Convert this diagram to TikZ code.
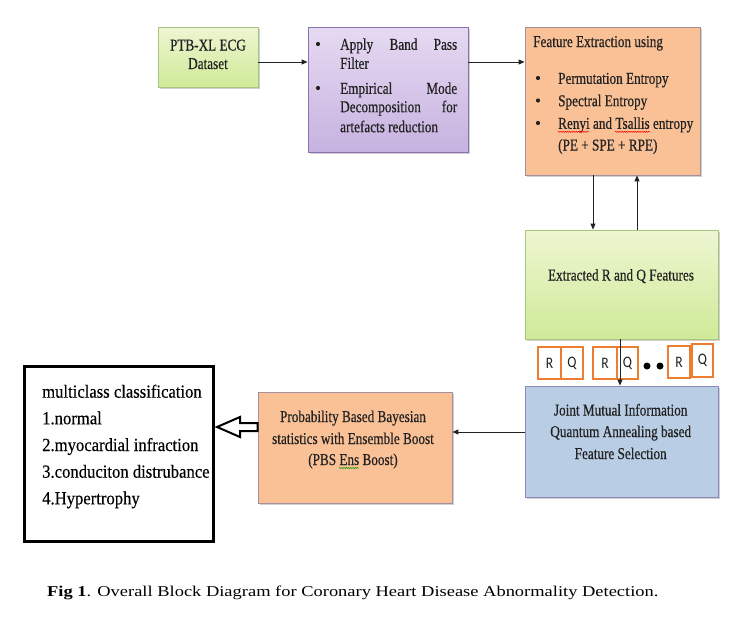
\documentclass[tikz,border=0pt]{standalone}
\usepackage{fontspec}
\setmainfont{Liberation Serif}
\newfontfamily\boxfont[FakeStretch=0.8,FakeBold=0.5]{Liberation Serif}
\newfontfamily\outfont[FakeStretch=0.9,FakeBold=0.3]{Liberation Serif}
\newfontfamily\capfont[FakeStretch=1.23]{Liberation Serif}
\newfontfamily\rqfont[FakeStretch=0.85]{Carlito}
\usetikzlibrary{arrows.meta,shadows,calc,decorations.pathmorphing}
\definecolor{gtop}{HTML}{EEF6D2}
\definecolor{gbot}{HTML}{CFEA98}
\definecolor{gbd}{HTML}{A9C47F}
\definecolor{ptop}{HTML}{E6DAF2}
\definecolor{pbot}{HTML}{C7B2E0}
\definecolor{pbd}{HTML}{8A72AE}
\definecolor{orf}{HTML}{FAC196}
\definecolor{orbd}{HTML}{A4909C}
\definecolor{blf}{HTML}{B9CDE5}
\definecolor{blbd}{HTML}{8E8AB8}
\definecolor{rqc}{HTML}{ED7D31}
\definecolor{ink}{HTML}{222222}
\begin{document}
\begin{tikzpicture}[x=1pt,y=-1pt,
  box/.style={draw, inner sep=0pt, line width=0.8pt,
    drop shadow={shadow xshift=1.5pt, shadow yshift=-1.5pt, opacity=0.3, fill=black!60}},
  greenbox/.style={box, draw=gbd, top color=gtop, bottom color=gbot},
  purplebox/.style={box, draw=pbd, top color=ptop, bottom color=pbot},
  orangebox/.style={box, draw=orbd, fill=orf},
  bluebox/.style={box, draw=blbd, fill=blf},
  rqbox/.style={draw=rqc, line width=1.8pt, fill=white, inner sep=0pt,
    font=\rqfont\fontsize{16}{18}\selectfont, text=ink},
  dotnode/.style={circle, fill=black, inner sep=0pt, minimum size=7pt},
  bul/.style={circle, fill=ink, inner sep=0pt, minimum size=4.2pt},
  tx/.style={inner sep=0pt, text=ink, font=\boxfont\fontsize{16.5}{20}\selectfont},
  ot/.style={inner sep=0pt, anchor=base west, text=black, font=\outfont\fontsize{18.5}{22}\selectfont},
  arr/.style={draw=ink, line width=0.9pt, -{Triangle[length=6pt,width=5pt]}},
  squig/.style={line width=0.5pt, decorate, decoration={snake, amplitude=0.6pt, segment length=2.2pt}}
]
\fill[white] (0,0) rectangle (745,619);
\useasboundingbox (0,0) rectangle (745,619);

% boxes
\node[greenbox, minimum width=100pt, minimum height=60pt] (ptb) at (208,57) {};
\node[purplebox, minimum width=160pt, minimum height=125pt] (purple) at (388,89.5) {};
\node[orangebox, minimum width=175pt, minimum height=148pt] (fe) at (612.5,101) {};
\node[greenbox, minimum width=193pt, minimum height=109pt] (rq) at (621.5,284.5) {};
\node[bluebox, minimum width=193pt, minimum height=111pt] (jmi) at (621.5,441.5) {};
\node[orangebox, minimum width=194pt, minimum height=111pt] (pbs) at (355,447.5) {};
\node[draw=black, line width=3pt, inner sep=0pt, minimum width=189pt, minimum height=175pt] (out) at (119,454) {};

% R Q boxes
\node[rqbox, minimum width=23pt, minimum height=32pt] (r1) at (549.5,363) {R};
\node[rqbox, minimum width=22pt, minimum height=32pt] (q1) at (572,363) {Q};
\node[rqbox, minimum width=24pt, minimum height=32pt] (r2) at (605,363) {R};
\node[rqbox, minimum width=21pt, minimum height=32pt] (q2) at (627.5,363) {Q};
\node[dotnode] (d1) at (647,366) {};
\node[dotnode] (d2) at (660,366) {};
\node[rqbox, minimum width=22pt, minimum height=32pt] (r3) at (679,362) {R};
\node[rqbox, minimum width=21pt, minimum height=33pt] (q3) at (702.5,360.5) {Q};

% helper coordinates
\coordinate (ya) at (0,62);
\coordinate (yb) at (0,432);
\coordinate (yc) at (0,427);
\coordinate (xa) at (593,0);
\coordinate (xb) at (637,0);
\coordinate (xc) at (620,0);

% connectors
\draw[arr] (ptb.east |- ya) -- (purple.west |- ya);
\draw[arr] (purple.east |- ya) -- (fe.west |- ya);
\draw[arr] (fe.south -| xa) -- (rq.north -| xa);
\draw[arr] (rq.north -| xb) -- (fe.south -| xb);
\draw[arr] (rq.south -| xc) -- (jmi.north -| xc);
\draw[arr] (jmi.west |- yb) -- (pbs.east |- yb);
\draw[line width=2pt, fill=white, line join=miter]
  ($(out.east |- yc)+(2,0)$) -- ++(23,-10) -- ++(0,6)
  -- ($(pbs.west |- yc)+(0,-4)$) -- ++(0,8)
  -- ($(out.east |- yc)+(25,4)$) -- ++(0,6) -- cycle;

% texts
\node[tx, anchor=base] (ptb1) at (208,50.5) {PTB-XL ECG};
\node[tx, anchor=base] (ptb2) at (208,69) {Dataset};

\node[bul] (pb1) at (318,44) {};
\node[tx, anchor=base west] (pl1) at (340,49.8) {\makebox[117pt][s]{Apply Band Pass}};
\node[tx, anchor=base west] (pl2) at (340,68.8) {Filter};
\node[bul] (pb2) at (318,88) {};
\node[tx, anchor=base west] (pl3) at (340,93.8) {\makebox[117pt][s]{Empirical Mode}};
\node[tx, anchor=base west] (pl4) at (340,112.2) {\makebox[117pt][s]{Decomposition for}};
\node[tx, anchor=base west] (pl5) at (340,132.2) {artefacts reduction};

\node[tx, anchor=base west] (fe0) at (533,47) {Feature Extraction using};
\node[bul] (fb1) at (538,78) {};
\node[tx, anchor=base west] (fe1) at (558,83.8) {Permutation Entropy};
\node[bul] (fb2) at (538,100.5) {};
\node[tx, anchor=base west] (fe2) at (558,106.2) {Spectral Entropy};
\node[bul] (fb3) at (538,123) {};
\node[tx, anchor=base west] (fe3) at (558,128.8) {Renyi and Tsallis entropy};
\node[tx, anchor=base west] (fe4) at (558,150.5) {(PE + SPE + RPE)};
\draw[squig, red] ([shift={(0,3)}]fe3.base west) -- ++(31,0);
\draw[squig, red] ([shift={(57,3)}]fe3.base west) -- ++(35,0);

\node[tx, anchor=base] (rqt) at (621,280.5) {Extracted R and Q Features};

\node[tx, anchor=base] (j1) at (620.7,415.5) {Joint Mutual Information};
\node[tx, anchor=base] (j2) at (620.7,437) {Quantum Annealing based};
\node[tx, anchor=base] (j3) at (620.7,459) {Feature Selection};

\node[tx, anchor=base] (p1) at (353,422) {Probability Based Bayesian};
\node[tx, anchor=base] (p2) at (353,444) {statistics with Ensemble Boost};
\node[tx, anchor=base] (p3) at (353,465) {(PBS Ens Boost)};
\draw[squig, green!60!black] ([shift={(31,3)}]p3.base west) -- ++(20,0);

\node[ot] (o1) at (42,397.7) {multiclass classification};
\node[ot] (o2) at (42,424.3) {1.normal};
\node[ot] (o3) at (42,451) {2.myocardial infraction};
\node[ot] (o4) at (42,477.7) {3.conduciton distrubance};
\node[ot] (o5) at (42,504.3) {4.Hypertrophy};

\node[inner sep=0pt, anchor=base west, text=black, font=\capfont\fontsize{15}{18}\selectfont] (cap) at (47,596.3)
  {\textbf{Fig 1}. Overall Block Diagram for Coronary Heart Disease Abnormality Detection.};
\end{tikzpicture}
\end{document}
